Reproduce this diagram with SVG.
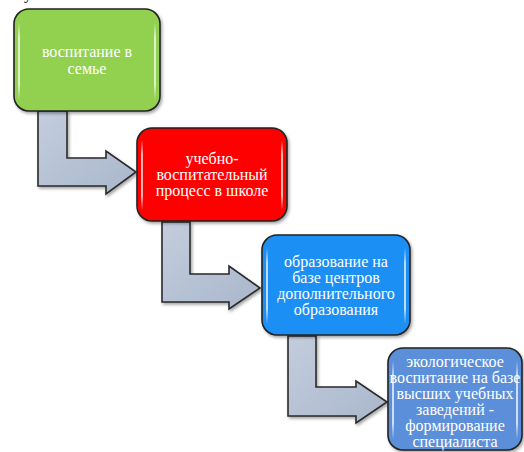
<svg xmlns="http://www.w3.org/2000/svg" width="524" height="452" viewBox="0 0 524 452">
<defs>
<linearGradient id="ag" x1="0" y1="0" x2="1" y2="1">
<stop offset="0" stop-color="#c3cddd"/>
<stop offset="1" stop-color="#a9b6cb"/>
</linearGradient>
<linearGradient id="hg" x1="0" y1="0" x2="0" y2="1">
<stop offset="0" stop-color="#fff" stop-opacity="0"/>
<stop offset="0.2" stop-color="#fff" stop-opacity="0.7"/>
<stop offset="0.8" stop-color="#fff" stop-opacity="0.7"/>
<stop offset="1" stop-color="#fff" stop-opacity="0"/>
</linearGradient>
<filter id="sh" x="-10%" y="-10%" width="130%" height="130%">
<feDropShadow dx="1.5" dy="2" stdDeviation="1.5" flood-color="#000" flood-opacity="0.35"/>
</filter>
</defs>
<style>
.box{stroke:#222;stroke-width:1.6;filter:url(#sh)}
.hl{fill:url(#hg)}
.arr{fill:url(#ag);stroke:#2a2a2a;stroke-width:1.6;stroke-linejoin:miter;filter:url(#sh)}
.t{font-family:"Liberation Serif","Times New Roman",serif;font-size:16px;fill:#fff;text-anchor:middle}
</style>
<text x="24" y="-1" style="font-family:'Liberation Serif',serif;font-size:16px;fill:#000">у</text>
<g id="connectors">
<path class="arr" d="M38,111 L67,111 L67,158 L106,158 L106,151 L136,172 L106,194 L106,186 L38,186 Z"/>
<path class="arr" d="M162,222 L190,222 L190,274 L229,274 L229,266 L260,288 L229,309 L229,302 L162,302 Z"/>
<path class="arr" d="M288,336 L316,336 L316,387 L356,387 L356,381 L387,402 L356,423 L356,416 L288,416 Z"/>
</g>
<g id="node1">
<rect class="box" x="14" y="9" width="146" height="102" rx="15" fill="#92d050"/>
<rect class="hl" x="18" y="22" width="2" height="78" rx="1"/>
<rect class="hl" x="154" y="22" width="2" height="78" rx="1"/>
<text class="t" x="87" y="57">воспитание в</text>
<text class="t" x="87" y="74">семье</text>
</g>
<g id="node2">
<rect class="box" x="137" y="128" width="150" height="93" rx="15" fill="#ff0000"/>
<rect class="hl" x="141" y="140" width="2" height="70" rx="1"/>
<rect class="hl" x="281" y="140" width="2" height="70" rx="1"/>
<text class="t" x="212" y="164">учебно-</text>
<text class="t" x="212" y="180">воспитательный</text>
<text class="t" x="212" y="196">процесс в школе</text>
</g>
<g id="node3">
<rect class="box" x="262" y="235" width="148" height="100" rx="15" fill="#1e8ff5"/>
<rect class="hl" x="266" y="248" width="2" height="76" rx="1"/>
<rect class="hl" x="404" y="248" width="2" height="76" rx="1"/>
<text class="t" x="336" y="267">образование на</text>
<text class="t" x="336" y="283">базе центров</text>
<text class="t" x="336" y="299">дополнительного</text>
<text class="t" x="336" y="315">образования</text>
</g>
<g id="node4">
<rect class="box" x="388" y="348" width="134" height="102" rx="15" fill="#5b8fd9"/>
<rect class="hl" x="392" y="361" width="2" height="78" rx="1"/>
<rect class="hl" x="516" y="361" width="2" height="78" rx="1"/>
<text class="t" x="455" y="367">экологическое</text>
<text class="t" x="455" y="383">воспитание на базе</text>
<text class="t" x="455" y="399">высших учебных</text>
<text class="t" x="455" y="415">заведений -</text>
<text class="t" x="455" y="431">формирование</text>
<text class="t" x="455" y="447">специалиста</text>
</g>
</svg>
